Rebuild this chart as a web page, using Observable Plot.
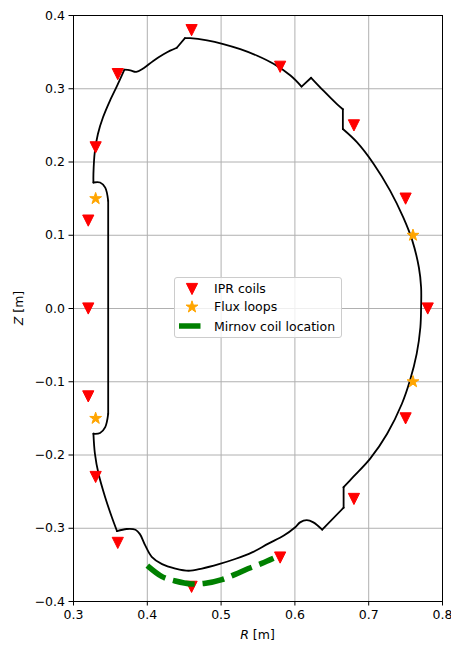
<!DOCTYPE html>
<html><head><meta charset="utf-8">
<script src="https://cdn.jsdelivr.net/npm/d3@7"></script>
<script src="https://cdn.jsdelivr.net/npm/@observablehq/plot@0.6"></script>
<style>
body{margin:0;background:#fff}
#wrap{position:relative;width:451px;height:648px;font-family:"DejaVu Sans",sans-serif;color:#000}
.abs{position:absolute;white-space:nowrap}
</style></head>
<body><div id="wrap"></div>
<script>
// ---- data ----
const wallR = [0.347,0.343,0.336,0.327,0.327,0.329,0.333,0.340,0.350,0.359,0.369,0.377,0.385,0.395,0.408,0.422,0.431,0.440,0.451,0.458,0.481,0.503,0.526,0.549,0.571,0.594,0.609,0.622,0.639,0.657,0.665,0.665,0.684,0.707,0.729,0.747,0.759,0.768,0.771,0.771,0.770,0.765,0.756,0.745,0.725,0.702,0.679,0.666,0.666,0.637,0.625,0.616,0.607,0.600,0.585,0.564,0.542,0.519,0.497,0.474,0.456,0.438,0.420,0.406,0.397,0.390,0.384,0.372,0.359,0.352,0.343,0.334,0.329,0.327,0.336,0.343,0.347,0.347];
const wallZ = [0.147,0.165,0.172,0.172,0.184,0.215,0.238,0.261,0.285,0.304,0.326,0.325,0.323,0.328,0.338,0.347,0.352,0.356,0.369,0.369,0.366,0.361,0.354,0.345,0.334,0.318,0.303,0.315,0.297,0.279,0.272,0.245,0.227,0.197,0.161,0.124,0.093,0.056,0.029,0.002,-0.026,-0.062,-0.098,-0.130,-0.171,-0.205,-0.230,-0.244,-0.272,-0.302,-0.292,-0.289,-0.292,-0.299,-0.310,-0.321,-0.333,-0.342,-0.349,-0.355,-0.358,-0.355,-0.349,-0.339,-0.323,-0.308,-0.302,-0.301,-0.304,-0.285,-0.258,-0.226,-0.198,-0.171,-0.170,-0.162,-0.144,0.147];
// indices of sharp corners of the wall outline (the outline is smooth between them)
const wallCorners = [0,3,10,17,18,26,27,30,31,47,48,49,68,73,76,77];

const iprR = [0.46,0.36,0.58,0.33,0.68,0.32,0.75,0.32,0.78,0.32,0.75,0.33,0.68,0.36,0.58,0.46];
const iprZ = [0.38,0.32,0.33,0.22,0.25,0.12,0.15,0.00,0.00,-0.12,-0.15,-0.23,-0.26,-0.32,-0.34,-0.38];

const fluxR = [0.33,0.76,0.33,0.76];
const fluxZ = [0.15,0.10,-0.15,-0.10];

const mirR = [0.400,0.420,0.438,0.460,0.479,0.501,0.519,0.537,0.555,0.571];
const mirZ = [-0.351,-0.366,-0.372,-0.376,-0.375,-0.370,-0.363,-0.355,-0.348,-0.341];

const xTicks = [0.3,0.4,0.5,0.6,0.7,0.8];
const xTickLabels = ["0.3","0.4","0.5","0.6","0.7","0.8"];
const yTicks = [-0.4,-0.3,-0.2,-0.1,0.0,0.1,0.2,0.3,0.4];
const yTickLabels = ["\u22120.4","\u22120.3","\u22120.2","\u22120.1","0.0","0.1","0.2","0.3","0.4"];

const legendLabels = ["IPR coils","Flux loops","Mirnov coil location"];

// ---- tables ----
const wall = [];
for (let k = 0; k < wallCorners.length - 1; k++) {
  for (let i = wallCorners[k]; i <= wallCorners[k + 1]; i++) wall.push({R: wallR[i], Z: wallZ[i], run: k});
}
const ipr = iprR.map((R,i)=>({R, Z: iprZ[i]}));
const flux = fluxR.map((R,i)=>({R, Z: fluxZ[i]}));
const mirnov = mirR.map((R,i)=>({R, Z: mirZ[i]}));

// ---- custom symbols (matplotlib-like) ----
const triangleDown = {draw(ctx, size){const r=Math.sqrt(size/Math.PI); ctx.moveTo(0,r); ctx.lineTo(-r,-r); ctx.lineTo(r,-r); ctx.closePath();}};
const star5 = {draw(ctx, size){const R=Math.sqrt(size/Math.PI), ri=R*0.381966;
  for(let k=0;k<10;k++){const a=-Math.PI/2+k*Math.PI/5, rr=k%2?ri:R, x=rr*Math.cos(a), y=rr*Math.sin(a); if(k) ctx.lineTo(x,y); else ctx.moveTo(x,y);} ctx.closePath();}};

const fmt = (ticks, labels) => d => { const i = ticks.findIndex(t => Math.abs(t-d) < 1e-9); return i >= 0 ? labels[i] : ""; };

const chart = Plot.plot({
  width: 451, height: 648,
  marginLeft: 73, marginRight: 9, marginTop: 15, marginBottom: 47,
  style: {fontFamily: "DejaVu Sans, sans-serif", fontSize: "12.5px", color: "#000", background: "#fff", overflow: "visible"},
  x: {domain: [0.3, 0.8], ticks: xTicks, tickFormat: fmt(xTicks, xTickLabels), tickSize: 4.5, tickPadding: 4, label: null},
  y: {domain: [-0.4, 0.4], ticks: yTicks, tickFormat: fmt(yTicks, yTickLabels), tickSize: 4.5, tickPadding: 4, label: null},
  marks: [
    Plot.ruleX(xTicks, {stroke: "#b0b0b0", strokeWidth: 1}),
    Plot.ruleY(yTicks, {stroke: "#b0b0b0", strokeWidth: 1}),
    Plot.line(wall, {x: "R", y: "Z", z: "run", stroke: "black", strokeWidth: 1.8, curve: "catmull-rom"}),
    Plot.dot(ipr, {x: "R", y: "Z", symbol: triangleDown, r: 5.6, fill: "#ff0000", stroke: "#ff0000", strokeWidth: 1}),
    Plot.dot(flux, {x: "R", y: "Z", symbol: star5, r: 6.2, fill: "#ffa500", stroke: "#ffa500", strokeWidth: 1}),
    Plot.line(mirnov, {x: "R", y: "Z", stroke: "#008000", strokeWidth: 5.5, strokeDasharray: "22,8", strokeLinecap: "butt", curve: "catmull-rom"}),
    Plot.frame({stroke: "black", strokeWidth: 1})
  ]
});

const wrap = document.getElementById("wrap");
wrap.appendChild(chart);

// axis labels
const xl = document.createElement("div");
xl.className = "abs";
xl.style.cssText = "left:257.5px;top:627px;transform:translateX(-50%);font-size:12.5px;line-height:15px";
xl.innerHTML = '<span style="font-style:italic">R</span> [m]';
wrap.appendChild(xl);
const yl = document.createElement("div");
yl.className = "abs";
yl.style.cssText = "left:18px;top:308px;transform:translate(-50%,-50%) rotate(-90deg);font-size:12.5px;line-height:15px;color:#000";
yl.innerHTML = '<span style="font-style:italic">Z</span> [m]';
wrap.appendChild(yl);

// legend
const lg = document.createElement("div");
lg.className = "abs";
lg.style.cssText = "left:174px;top:277px;width:168px;height:61px;box-sizing:border-box;border:1px solid #cccccc;border-radius:3px;background:rgba(255,255,255,0.8)";
wrap.appendChild(lg);
const rows = [
  {y: 288.5, kind: "tri", color: "#ff0000"},
  {y: 306.6, kind: "star", color: "#ffa500"},
  {y: 325.8, kind: "line", color: "#008000"}
];
rows.forEach((row, i) => {
  const s = d3.create("svg").attr("width", 30).attr("height", 16)
    .style("position", "absolute").style("left", (176.5) + "px").style("top", (row.y - 8) + "px");
  if (row.kind === "line") {
    s.append("line").attr("x1", 2).attr("x2", 23.5).attr("y1", 8).attr("y2", 8)
      .attr("stroke", row.color).attr("stroke-width", 5.5);
  } else {
    const sym = row.kind === "tri" ? triangleDown : star5;
    const r = row.kind === "tri" ? 5.6 : 6.2;
    s.append("path").attr("transform", "translate(15,8)")
      .attr("d", d3.symbol(sym, r * r * Math.PI)())
      .attr("fill", row.color).attr("stroke", row.color).attr("stroke-width", 1);
  }
  wrap.appendChild(s.node());
  const t = document.createElement("div");
  t.className = "abs";
  t.style.cssText = `left:214px;top:${row.y - 7.3}px;font-size:12.5px;line-height:15px;color:#000`;
  t.textContent = legendLabels[i];
  wrap.appendChild(t);
});
</script>
</body></html>
